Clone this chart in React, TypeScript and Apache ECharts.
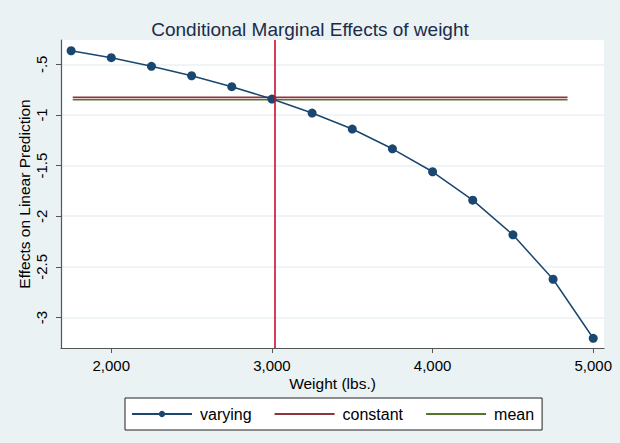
import React, { useEffect, useRef } from "react";
import * as echarts from "echarts";

const weights = [1750, 2000, 2250, 2500, 2750, 3000, 3250, 3500, 3750, 4000, 4250, 4500, 4750, 5000];
const varying = [-0.366, -0.435, -0.52, -0.613, -0.721, -0.843, -0.981, -1.139, -1.334, -1.561, -1.841, -2.184, -2.622, -3.205];
const constantX = [1760, 4840];
const constantY = [-0.826, -0.826];
const meanX = [1760, 4840];
const meanY = [-0.85, -0.85];
const meanWeight = 3019.46;
const xTicks = [2000, 3000, 4000, 5000];
const yTicks = [-3, -2.5, -2, -1.5, -1, -0.5];

const FONT = "'Liberation Sans', Arial, sans-serif";

function fmtY(v: number): string {
  const s = String(v);
  return s.replace("-0.", "-.");
}

export default function App() {
  const ref = useRef<HTMLDivElement>(null);
  useEffect(() => {
    document.body.style.margin = "0";
    const chart = echarts.init(ref.current!, undefined, { renderer: "svg" });
    chart.setOption({
      animation: false,
      backgroundColor: "#eaf2f3",
      textStyle: { fontFamily: FONT },
      title: {
        text: "Conditional Marginal Effects of weight",
        left: "center",
        top: 15,
        textStyle: { fontFamily: FONT, fontSize: 19, fontWeight: "normal", color: "#1c2b4a" },
      },
      grid: { left: 61, right: 16, top: 40, bottom: 95, show: true, backgroundColor: "#ffffff", borderWidth: 0 },
      legend: {
        data: [
          { name: "varying" },
          { name: "constant", itemStyle: { opacity: 0 } },
          { name: "mean", itemStyle: { opacity: 0 } },
        ],
        left: 125,
        top: 398,
        orient: "horizontal",
        backgroundColor: "#ffffff",
        borderColor: "#222",
        borderWidth: 1,
        borderRadius: 0,
        padding: [8, 8, 8, 6],
        itemWidth: 60,
        itemHeight: 8,
        itemGap: 22,
        textStyle: { fontFamily: FONT, fontSize: 16, color: "#000", padding: [0, 0, 0, 3] },
      },
      xAxis: {
        type: "value",
        min: 1687,
        max: 5067,
        name: "Weight (lbs.)",
        nameLocation: "middle",
        nameGap: 27,
        nameMoveOverlap: false,
        nameTextStyle: { fontFamily: FONT, fontSize: 15.5, color: "#000" },
        axisLine: { show: true, lineStyle: { color: "#555", width: 1.2 } },
        axisTick: { show: true, length: 5, customValues: xTicks, lineStyle: { color: "#555" } },
        axisLabel: {
          customValues: xTicks,
          margin: 10,
          fontFamily: FONT,
          fontSize: 15,
          color: "#000",
          formatter: (v: number) => v.toLocaleString("en-US"),
        },
        splitLine: { show: false },
      },
      yAxis: {
        type: "value",
        min: -3.301,
        max: -0.26,
        name: "Effects on Linear Prediction",
        nameLocation: "middle",
        nameGap: 29,
        nameMoveOverlap: false,
        nameTextStyle: { fontFamily: FONT, fontSize: 15.5, color: "#000" },
        axisLine: { show: true, lineStyle: { color: "#555", width: 1.2 } },
        axisTick: { show: true, length: 5, customValues: yTicks, lineStyle: { color: "#555" } },
        axisLabel: {
          customValues: yTicks,
          rotate: 90,
          margin: 12,
          fontFamily: FONT,
          fontSize: 15,
          color: "#000",
          formatter: (v: number) => fmtY(v),
        },
        splitLine: { show: false },
      },
      series: [
        {
          name: "grid",
          type: "line",
          data: [],
          z: 0,
          silent: true,
          markLine: {
            silent: true,
            z: 0,
            symbol: "none",
            label: { show: false },
            lineStyle: { color: "#eaf2f3", width: 1.5, type: "solid" },
            data: yTicks.map((v) => ({ yAxis: v })),
          },
        },
        {
          name: "constant",
          type: "line",
          data: constantX.map((x, i) => [x, constantY[i]]),
          showSymbol: false,
          symbol: "none",
          lineStyle: { color: "#90353b", width: 1.6 },
          itemStyle: { color: "#90353b" },
          z: 2,
        },
        {
          name: "mean",
          type: "line",
          data: meanX.map((x, i) => [x, meanY[i]]),
          showSymbol: false,
          symbol: "none",
          lineStyle: { color: "#55752f", width: 1.6 },
          itemStyle: { color: "#55752f" },
          z: 2,
        },
        {
          name: "varying",
          type: "line",
          data: weights.map((w, i) => [w, varying[i]]),
          symbol: "circle",
          symbolSize: 9,
          lineStyle: { color: "#1a476f", width: 1.5 },
          itemStyle: { color: "#1a476f" },
          z: 3,
        },
        {
          name: "meanline",
          type: "line",
          data: [],
          z: 4,
          silent: true,
          markLine: {
            silent: true,
            symbol: "none",
            label: { show: false },
            lineStyle: { color: "#c8102e", width: 1.6, type: "solid" },
            data: [{ xAxis: meanWeight }],
          },
        },
      ],
    });
    return () => chart.dispose();
  }, []);
  return <div ref={ref} style={{ width: 620, height: 443 }} />;
}
